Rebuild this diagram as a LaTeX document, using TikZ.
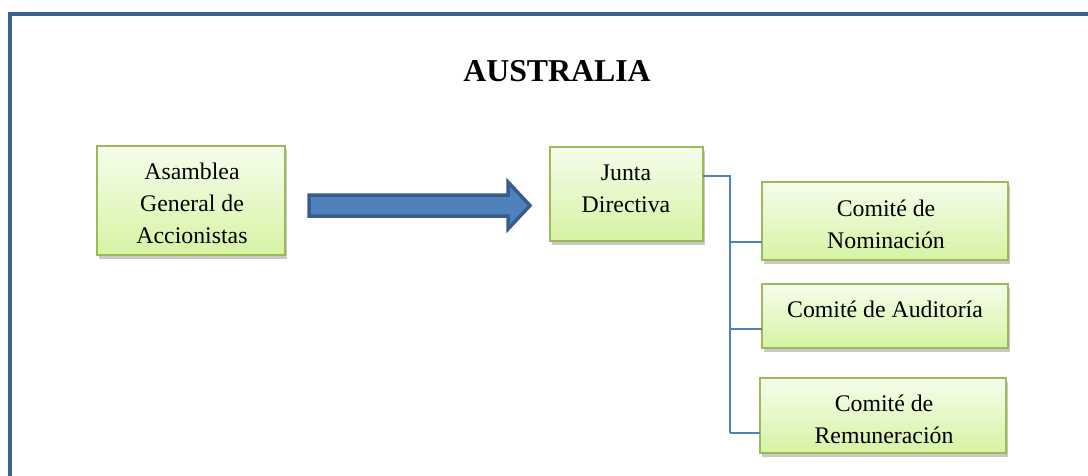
\documentclass[tikz,border=0pt]{standalone}
\usepackage{fontspec}
\setmainfont{Liberation Serif}
\usetikzlibrary{shadows}
\definecolor{frameblue}{RGB}{60,96,145}
\definecolor{boxgreen}{RGB}{155,187,89}
\definecolor{topgreen}{RGB}{246,253,236}
\definecolor{botgreen}{RGB}{214,243,164}
\definecolor{arrowfill}{RGB}{79,129,189}
\definecolor{arrowdraw}{RGB}{56,93,138}
\definecolor{linkblue}{RGB}{79,129,189}
\tikzset{
  box/.style={draw=boxgreen, line width=2.4pt, top color=topgreen, bottom color=botgreen,
    drop shadow={shadow xshift=2pt, shadow yshift=-3.5pt, opacity=0.3, fill=black!70}},
  txt/.style={align=center, font=\fontsize{23.8}{32}\selectfont, inner sep=0pt},
  link/.style={draw=linkblue, line width=2.3pt},
}
\begin{document}
\begin{tikzpicture}[x=1pt,y=-1pt]
\useasboundingbox (0,0) rectangle (1088,475);
% frame
\draw[frameblue, line width=4.5pt] (10,480) -- (10,14) -- (1095,14);
% title
\node[font=\bfseries\fontsize{31.8}{36}\selectfont, inner sep=0pt] (title) at (557,71) {AUSTRALIA};
% boxes
\path[box] (97,146) rectangle (285,255);
\node[txt] (asmt) at (192,203) {Asamblea\\General de\\Accionistas};
\path[box] (550,147) rectangle (703,241);
\node[txt] (junta) at (626,189) {Junta\\Directiva};
\coordinate (jr) at (703,176);
\path[box] (762,182) rectangle (1008,260);
\node[txt] (nom) at (886,224) {Comité de\\Nominación};
\coordinate (noml) at (762,242);
\path[box] (762,284) rectangle (1008,348);
\node[txt] (aud) at (885,309) {Comité de Auditoría};
\coordinate (audl) at (762,329);
\path[box] (760,378) rectangle (1006,453);
\node[txt] (rem) at (884,419) {Comité de\\Remuneración};
\coordinate (reml) at (760,433);
% big arrow
\draw[fill=arrowfill, draw=arrowdraw, line width=3.5pt, line join=miter]
  (309,195) -- (508,195) -- (508,182) -- (530,205.5) -- (508,229) -- (508,216) -- (309,216) -- cycle;
% connectors
\coordinate (vx) at (730,176);
\coordinate (vb) at (730,433);
\draw[link] (jr) -- (vx) -- (vb);
\draw[link] (730,242) -- (noml);
\draw[link] (730,329) -- (audl);
\draw[link] (vb) -- (reml);
\end{tikzpicture}
\end{document}
